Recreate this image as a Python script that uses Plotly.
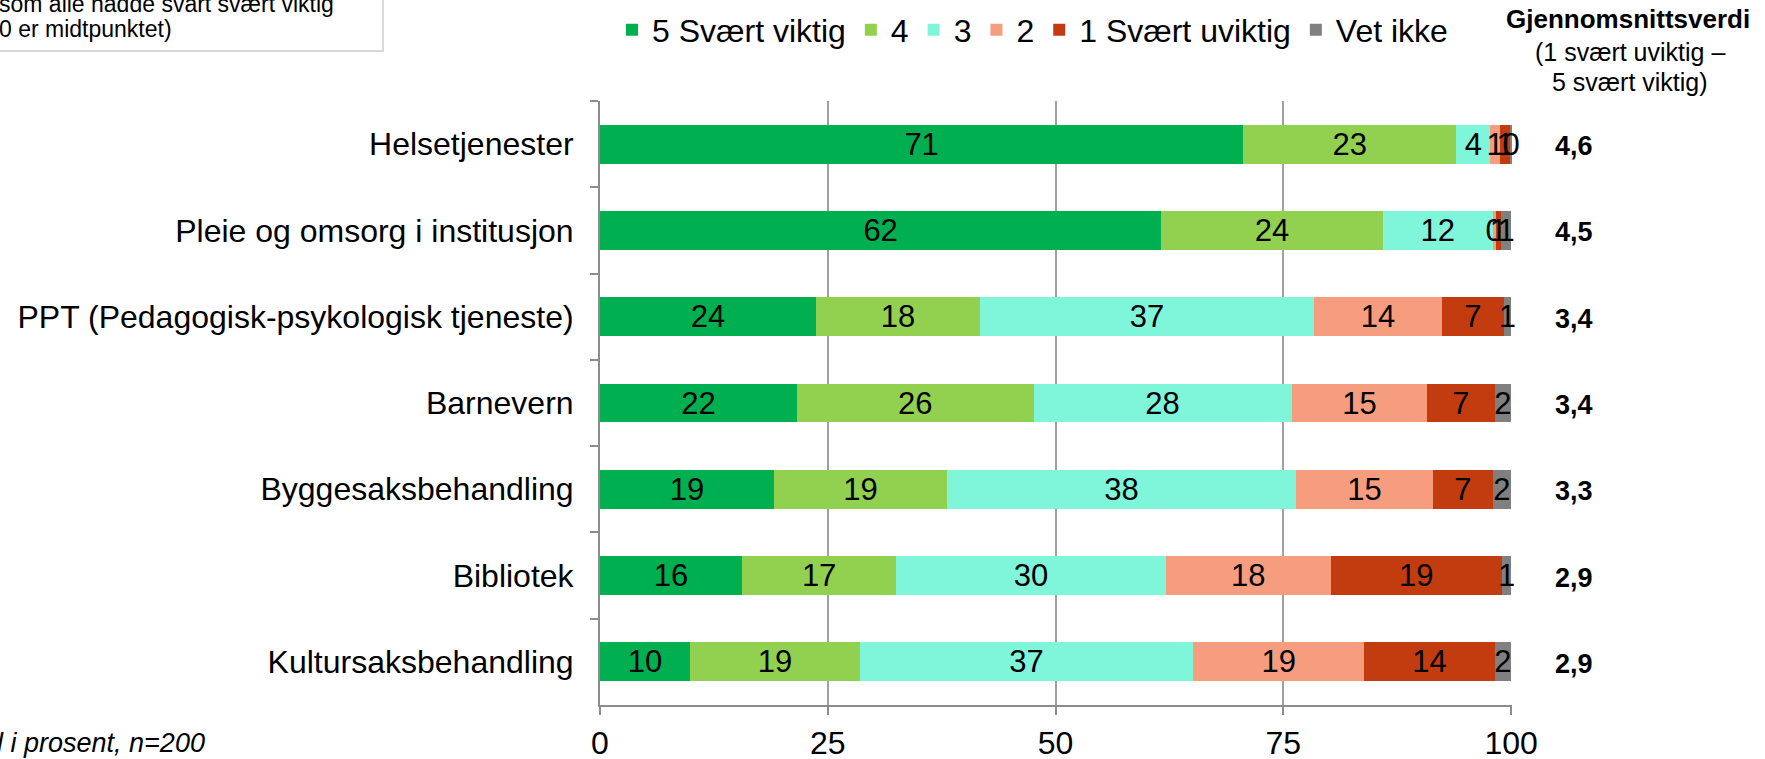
import plotly.graph_objects as go

W, H = 1765, 759
ML, MR, MT, MB = 600, 253, 101, 54
PW, PH = W - ML - MR, H - MT - MB

categories = [
    "Helsetjenester",
    "Pleie og omsorg i institusjon",
    "PPT (Pedagogisk-psykologisk tjeneste)",
    "Barnevern",
    "Byggesaksbehandling",
    "Bibliotek",
    "Kultursaksbehandling",
]

series_names = ["5 Svært viktig", "4", "3", "2", "1 Svært uviktig", "Vet ikke"]
v5 = [70.6, 61.6, 23.7, 21.6, 19.1, 15.6, 9.9]
v4 = [23.4, 24.3, 18.0, 26.0, 19.0, 16.9, 18.6]
v3 = [3.7, 12.1, 36.7, 28.3, 38.3, 29.6, 36.6]
v2 = [1.1, 0.3, 14.0, 14.9, 15.0, 18.1, 18.8]
v1 = [1.1, 0.6, 6.8, 7.4, 6.6, 18.8, 14.3]
vet_ikke = [0.1, 1.1, 0.8, 1.8, 2.0, 1.0, 1.8]
means = [4.6, 4.5, 3.4, 3.4, 3.3, 2.9, 2.9]

colors = ["#00B050", "#92D050", "#7FF5DA", "#F59D7E", "#C33C10", "#808080"]
x_ticks = [0, 25, 50, 75, 100]

FONT = "Arial, Liberation Sans, sans-serif"

def px_x(p):
    return (p - ML) / PW

def px_y(p):
    return (H - MB - p) / PH

fig = go.Figure()
for name, vals, col in zip(series_names, [v5, v4, v3, v2, v1, vet_ikke], colors):
    fig.add_trace(go.Bar(
        y=categories, x=vals, name=name, orientation="h",
        marker=dict(color=col, line=dict(width=0)),
        texttemplate="%{x:.0f}", textposition="inside",
        insidetextanchor="middle", textangle=0, constraintext="none",
        textfont=dict(family=FONT, size=31, color="#000000"),
        cliponaxis=False,
    ))

annotations = []
# right column header
annotations.append(dict(xref="paper", yref="paper", x=px_x(1628), y=px_y(19),
                        text="<b>Gjennomsnittsverdi</b>", showarrow=False,
                        font=dict(family=FONT, size=26, color="#000"),
                        xanchor="center", yanchor="middle"))
annotations.append(dict(xref="paper", yref="paper", x=px_x(1630), y=px_y(52),
                        text="(1 svært uviktig –", showarrow=False,
                        font=dict(family=FONT, size=25, color="#000"),
                        xanchor="center", yanchor="middle"))
annotations.append(dict(xref="paper", yref="paper", x=px_x(1630), y=px_y(82),
                        text="5 svært viktig)", showarrow=False,
                        font=dict(family=FONT, size=25, color="#000"),
                        xanchor="center", yanchor="middle"))
for cat, m in zip(categories, means):
    annotations.append(dict(xref="paper", yref="y", x=px_x(1574), y=cat,
                            text="<b>" + f"{m:.1f}".replace(".", ",") + "</b>",
                            showarrow=False, yshift=-2,
                            font=dict(family=FONT, size=27, color="#000"),
                            xanchor="center", yanchor="middle"))
# top-left note box (cut off at page edge)
annotations.append(dict(xref="paper", yref="paper", x=px_x(-3), y=px_y(4),
                        text="som alle hadde svart svært viktig", showarrow=False,
                        font=dict(family=FONT, size=23, color="#000"),
                        xanchor="left", yanchor="middle"))
annotations.append(dict(xref="paper", yref="paper", x=px_x(-3), y=px_y(29),
                        text="0 er midtpunktet)", showarrow=False,
                        font=dict(family=FONT, size=23, color="#000"),
                        xanchor="left", yanchor="middle"))
# bottom-left note
annotations.append(dict(xref="paper", yref="paper", x=px_x(207), y=px_y(743),
                        text="<i>Tall i prosent, n=200</i>", showarrow=False,
                        font=dict(family=FONT, size=27, color="#000"),
                        xanchor="right", yanchor="middle"))

shapes = [dict(type="rect", xref="paper", yref="paper",
               x0=px_x(-10), x1=px_x(383), y0=px_y(51), y1=px_y(-10),
               line=dict(color="#D9D9D9", width=2), fillcolor="rgba(0,0,0,0)",
               layer="above")]

fig.update_layout(
    width=W, height=H,
    margin=dict(l=ML, r=MR, t=MT, b=MB, pad=0, autoexpand=False),
    barmode="stack", bargap=0.55,
    plot_bgcolor="#FFFFFF", paper_bgcolor="#FFFFFF",
    font=dict(family=FONT, size=32, color="#000"),
    showlegend=True,
    legend=dict(orientation="h", x=px_x(612), y=px_y(30), xanchor="left", yanchor="middle",
                font=dict(family=FONT, size=32, color="#000"),
                itemwidth=30, traceorder="normal", bgcolor="rgba(0,0,0,0)"),
    annotations=annotations,
    shapes=shapes,
    xaxis=dict(range=[0, 100.1], tickvals=x_ticks, ticktext=[str(t) for t in x_ticks],
               showgrid=True, gridcolor="#A0A0A0", gridwidth=1.5,
               showline=True, linecolor="#8C8C8C", linewidth=2,
               ticks="outside", ticklen=8, tickcolor="#8C8C8C", tickwidth=2,
               tickfont=dict(family=FONT, size=32, color="#000"),
               ticklabelstandoff=1, zeroline=False, fixedrange=True, automargin=False),
    yaxis=dict(autorange="reversed", type="category",
               showline=True, linecolor="#8C8C8C", linewidth=2,
               ticks="outside", ticklen=8, tickcolor="#8C8C8C", tickwidth=2,
               tickson="boundaries", showgrid=False,
               tickfont=dict(family=FONT, size=32, color="#000"),
               ticklabelstandoff=18, fixedrange=True, automargin=False),
)

fig.write_html("out.html", config={"displayModeBar": False},
               post_script="document.body.style.margin='0';document.body.style.overflow='hidden';")
